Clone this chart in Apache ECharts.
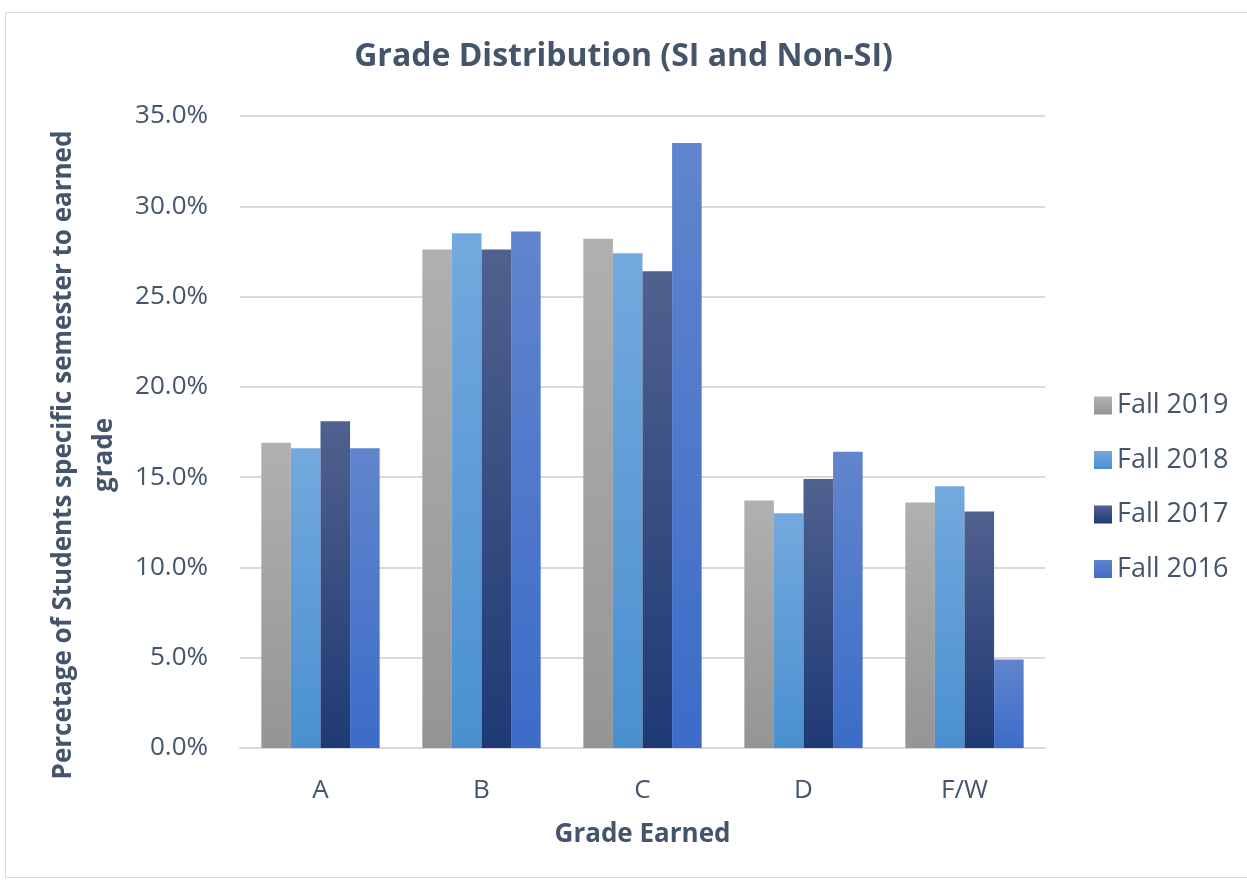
<!DOCTYPE html>
<html>
<head>
<meta charset="utf-8">
<script src="https://cdn.jsdelivr.net/npm/echarts@6/dist/echarts.min.js"></script>
<style>
  html, body { margin: 0; padding: 0; background: #ffffff; }
  #chart { width: 1247px; height: 882px; }
</style>
</head>
<body>
<div id="chart"></div>
<script>
// Grade categories and the share of students (%) per semester
const grades = ['A', 'B', 'C', 'D', 'F/W'];
const fall2019 = [16.9, 27.6, 28.2, 13.7, 13.6];
const fall2018 = [16.6, 28.5, 27.4, 13.0, 14.5];
const fall2017 = [18.1, 27.6, 26.4, 14.9, 13.1];
const fall2016 = [16.6, 28.6, 33.5, 16.4, 4.9];
const yTicks = { min: 0, max: 35, interval: 5 };

const FONT = '"Open Sans", "Noto Sans", sans-serif';
const TEXT = '#44546a';

function grad(top, bottom) {
  return new echarts.graphic.LinearGradient(0, 0, 0, 1, [
    { offset: 0, color: top },
    { offset: 1, color: bottom }
  ]);
}

const seriesDefs = [
  { name: 'Fall 2019', data: fall2019, color: grad('#b0b0b0', '#959595') },
  { name: 'Fall 2018', data: fall2018, color: grad('#73a9de', '#4a90d0') },
  { name: 'Fall 2017', data: fall2017, color: grad('#50618e', '#1e3a75') },
  { name: 'Fall 2016', data: fall2016, color: grad('#6185cd', '#3c6cc8') }
];

const chart = echarts.init(document.getElementById('chart'), null, { renderer: 'canvas' });

chart.setOption({
  backgroundColor: '#ffffff',
  animation: false,
  textStyle: { fontFamily: FONT },
  title: {
    text: 'Grade Distribution (SI and Non-SI)',
    left: 'center',
    top: 36,
    textStyle: { fontFamily: FONT, fontSize: 32, fontWeight: 'bold', color: TEXT }
  },
  legend: {
    orient: 'vertical',
    left: 1089,
    top: 387,
    itemWidth: 18,
    itemHeight: 18,
    itemGap: 27.5,
    icon: 'rect',
    textStyle: { fontFamily: FONT, fontSize: 27, lineHeight: 27, color: TEXT, padding: [0, 0, 0, 0] },
    data: seriesDefs.map(s => s.name)
  },
  grid: { left: 240, right: 202, top: 116, bottom: 134, containLabel: false },
  xAxis: {
    type: 'category',
    data: grades,
    name: 'Grade Earned',
    nameLocation: 'middle',
    nameGap: 74,
    nameTextStyle: { fontFamily: FONT, fontSize: 26, fontWeight: 'bold', color: TEXT },
    axisLine: { show: true, lineStyle: { color: '#d9d9d9', width: 2 } },
    axisTick: { show: false },
    axisLabel: { fontFamily: FONT, fontSize: 26, color: TEXT, margin: 30 }
  },
  yAxis: {
    type: 'value',
    min: yTicks.min,
    max: yTicks.max,
    interval: yTicks.interval,
    axisLine: { show: false },
    axisTick: { show: false },
    axisLabel: {
      fontFamily: FONT, fontSize: 26, color: TEXT, margin: 32,
      formatter: v => v.toFixed(1) + '%'
    },
    splitLine: { lineStyle: { color: '#d9d9d9', width: 2 } }
  },
  series: seriesDefs.map(s => ({
    name: s.name,
    type: 'bar',
    data: s.data,
    barGap: '0%',
    barCategoryGap: '26.5%',
    itemStyle: { color: s.color }
  })),
  graphic: [
    {
      // vertical axis title, two lines
      type: 'text',
      silent: true,
      x: 64,
      y: 455,
      rotation: Math.PI / 2,
      style: {
        text: 'Percetage of Students specific semester to earned',
        font: 'bold 26px ' + FONT,
        fill: TEXT,
        align: 'center',
        verticalAlign: 'middle'
      }
    },
    {
      type: 'text',
      silent: true,
      x: 105,
      y: 455,
      rotation: Math.PI / 2,
      style: {
        text: 'grade',
        font: 'bold 26px ' + FONT,
        fill: TEXT,
        align: 'center',
        verticalAlign: 'middle'
      }
    },
    {
      type: 'rect',
      silent: true,
      z: -1,
      shape: { x: 5.5, y: 12.5, width: 1260, height: 865 },
      style: { fill: null, stroke: '#d9d9d9', lineWidth: 1 }
    }
  ]
});
</script>
</body>
</html>
